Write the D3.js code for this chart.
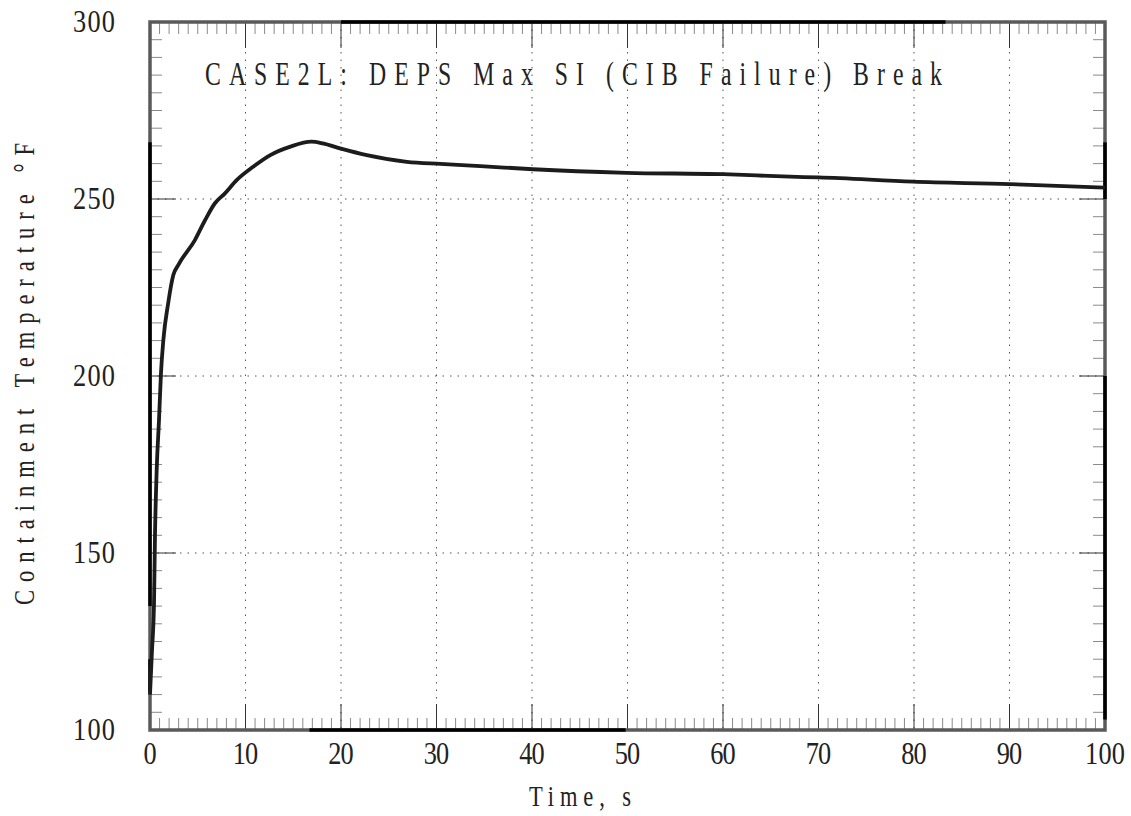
<!doctype html>
<html lang="en">
<head>
<meta charset="utf-8" />
<title>CASE2L containment temperature</title>
<script src="https://d3js.org/d3.v7.min.js"></script>
<style>
  html, body { margin: 0; padding: 0; background: #fff; }
  svg text { font-family: "Liberation Serif", "DejaVu Serif", serif; fill: #222; }
</style>
</head>
<body>
<div id="chart"></div>
<script>
// values
var timeS = [0, 0.2, 0.42, 0.52, 0.7, 0.94, 1.15, 1.4, 1.9, 2.44, 2.97, 4.7, 5.76, 6.8, 7.85, 9.1,
  10.8, 12.6, 14.7, 16.9, 18.1, 19.9, 22.7, 26.9, 30.4, 34.6, 40.1, 49.9, 60, 67, 70, 79.9, 90, 100];
var tempF = [110, 122, 135.8, 154.6, 173.4, 187.4, 200.8, 210.2, 220.5, 228.5, 231.4, 238.4, 244, 248.8, 251.6, 255.4,
  259.1, 262.4, 264.8, 266.2, 265.7, 264.3, 262.4, 260.5, 259.9, 259.3, 258.4, 257.4, 257.0, 256.3, 256.1, 254.9, 254.2, 253.2];
var xTicks = [0, 10, 20, 30, 40, 50, 60, 70, 80, 90, 100];
var yTicks = [100, 150, 200, 250, 300];
var titleText = "CASE2L: DEPS Max SI (CIB Failure) Break";
var xLabel = "Time, s";
var yLabel = "Containment Temperature \u00B0F";

var W = 1131, H = 816;
var m = { left: 150, right: 1105, top: 22, bottom: 730 };

var svg = d3.select("#chart").append("svg").attr("width", W).attr("height", H);
var x = d3.scaleLinear().domain([0, 100]).range([m.left, m.right]);
var y = d3.scaleLinear().domain([100, 300]).range([m.bottom, m.top]);

// dotted grid
var grid = svg.append("g").attr("stroke", "#555").attr("stroke-width", 1).attr("stroke-dasharray", "1.5,6");
grid.selectAll(".gx").data(xTicks.slice(1, -1)).enter().append("line")
  .attr("x1", d => x(d)).attr("x2", d => x(d)).attr("y1", m.top).attr("y2", m.bottom);
grid.selectAll(".gy").data(yTicks.slice(1, -1)).enter().append("line")
  .attr("y1", d => y(d)).attr("y2", d => y(d)).attr("x1", m.left).attr("x2", m.right);

// tick marks on all four sides
var minX = d3.range(0, 101, 1), minY = d3.range(100, 301, 5);
var tk = svg.append("g");
function tickLen(isMajor) { return isMajor ? 26 : 12; }
minX.forEach(function (v) {
  var maj = v % 10 === 0, c = maj ? "#333" : "#8a8a8a";
  tk.append("line").attr("x1", x(v)).attr("x2", x(v)).attr("y1", m.bottom).attr("y2", m.bottom - tickLen(maj)).attr("stroke", c);
  tk.append("line").attr("x1", x(v)).attr("x2", x(v)).attr("y1", m.top).attr("y2", m.top + tickLen(maj)).attr("stroke", c);
});
minY.forEach(function (v) {
  var maj = v % 50 === 0, c = maj ? "#333" : "#8a8a8a";
  tk.append("line").attr("y1", y(v)).attr("y2", y(v)).attr("x1", m.left).attr("x2", m.left + tickLen(maj)).attr("stroke", c);
  tk.append("line").attr("y1", y(v)).attr("y2", y(v)).attr("x1", m.right).attr("x2", m.right - tickLen(maj)).attr("stroke", c);
});

// frame
svg.append("rect").attr("x", m.left).attr("y", m.top).attr("width", m.right - m.left).attr("height", m.bottom - m.top)
  .attr("fill", "none").attr("stroke", "#5a5a5a").attr("stroke-width", 3.5);
var dark = svg.append("g").attr("stroke", "#000").attr("stroke-width", 3.5);
dark.append("line").attr("x1", x(20)).attr("x2", x(83.3)).attr("y1", m.top).attr("y2", m.top);
dark.append("line").attr("x1", x(16.7)).attr("x2", x(49.8)).attr("y1", m.bottom).attr("y2", m.bottom);
dark.append("line").attr("x1", m.left).attr("x2", m.left).attr("y1", y(266)).attr("y2", y(135));
dark.append("line").attr("x1", m.left).attr("x2", m.left).attr("y1", y(120)).attr("y2", y(111));
dark.append("line").attr("x1", m.right).attr("x2", m.right).attr("y1", y(266)).attr("y2", y(250));
dark.append("line").attr("x1", m.right).attr("x2", m.right).attr("y1", y(200)).attr("y2", y(103));

// curve
var pts = timeS.map((t, i) => [t, tempF[i]]);
svg.append("path").datum(pts)
  .attr("d", d3.line().x(d => x(d[0])).y(d => y(d[1])).curve(d3.curveMonotoneX))
  .attr("fill", "none").attr("stroke", "#1c1c1c").attr("stroke-width", 3.8).attr("stroke-linejoin", "round");

// text helper: condensed glyphs, spread letters to a fixed width
function label(g, str, px, py, size, width, anchor, sx) {
  var t = g.append("text").attr("transform", "translate(" + px + "," + py + ") scale(" + sx + ",1)")
    .attr("font-size", size).attr("text-anchor", anchor).text(str);
  if (width) t.attr("textLength", width / sx).attr("lengthAdjust", "spacing");
  return t;
}

var lab = svg.append("g");
xTicks.forEach(function (v) {
  var s = String(v);
  label(lab, s, x(v), 764, 31, s.length > 1 ? s.length * 14.5 - 3.5 : null, "middle", 0.85);
});
yTicks.forEach(function (v) {
  label(lab, String(v), 115, y(v) + 10, 31, 42, "end", 0.85);
});

label(lab, titleText, 205, 85, 33, 737, "start", 0.72);
label(lab, xLabel, 580, 806, 30, 102, "middle", 0.75);

var yl = lab.append("g").attr("transform", "translate(34,374) rotate(-90)");
label(yl, yLabel, 0, 0, 30, 462, "middle", 0.75);
</script>
</body>
</html>
